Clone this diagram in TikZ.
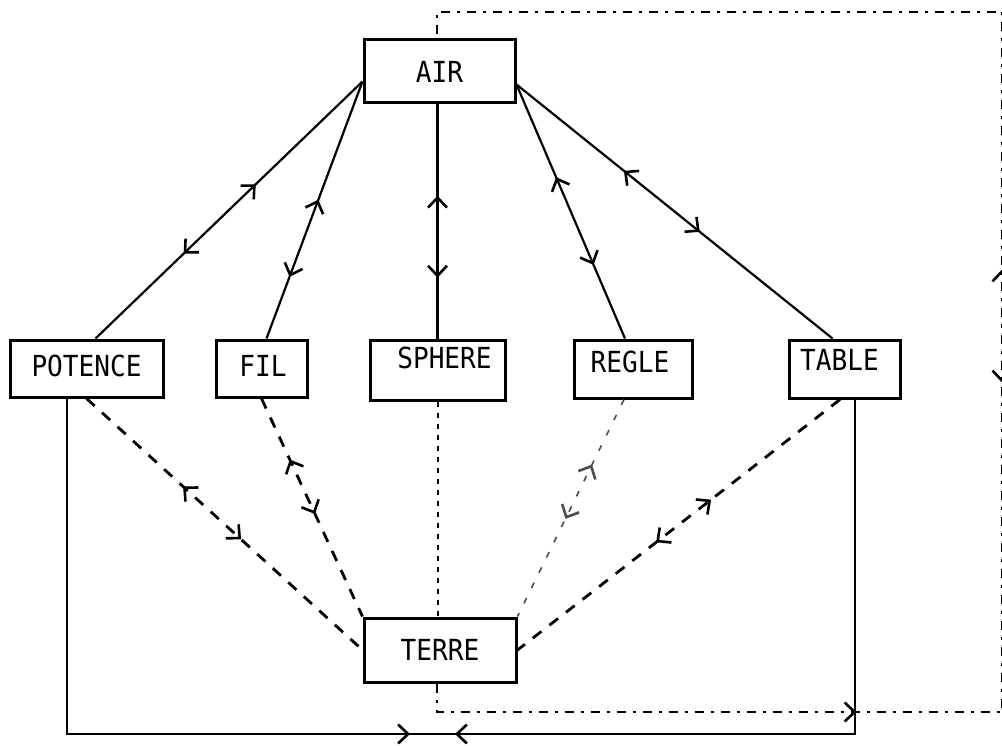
\documentclass[tikz,border=0pt]{standalone}
\usepackage{fontspec}
\newfontfamily\typewriter[FakeStretch=0.9]{DejaVu Sans Mono}
\usetikzlibrary{arrows.meta,decorations.markings}

\tikzset{
  barb/.tip={Straight Barb[length=10pt,width=19pt,line width=2.6pt]},
  lbl/.style={font=\typewriter\fontsize{29}{29}\selectfont, inner sep=0pt},
  box/.style n args={2}{draw, line width=3pt, inner sep=0pt,
    minimum width=#1, minimum height=#2},
  link/.style={line width=2.2pt},
  dlink/.style={line width=2.8pt, dash pattern=on 11pt off 10pt},
  dotlink/.style={line width=2pt, dash pattern=on 5pt off 6pt},
  faintlink/.style={line width=1.6pt, dash pattern=on 6pt off 11pt, black!70},
  dashdot/.style={line width=2.2pt, dash pattern=on 9pt off 7pt on 3pt off 7pt},
  two way/.style 2 args={postaction={decorate, decoration={markings,
    mark=at position #1 with {\arrowreversed{barb}},
    mark=at position #2 with {\arrow{barb}}}}},
  one way/.style={postaction={decorate, decoration={markings,
    mark=at position #1 with {\arrow{barb}}}}},
}

\begin{document}
\begin{tikzpicture}[x=1pt, y=-1pt]
  \useasboundingbox (0,0) rectangle (1002,746);
  \fill[white] (0,0) rectangle (1002,746);

  % boxes
  \node[box={151pt}{63pt}, label={[lbl, name=air-t]center:AIR}] (air) at (439.5,71.5) {};
  \node[box={153pt}{57pt}, label={[lbl, name=potence-t, yshift=2.5pt]center:POTENCE}] (potence) at (86.5,368.5) {};
  \node[box={91pt}{57pt}, label={[lbl, name=fil-t, xshift=1.5pt, yshift=3pt]center:FIL}] (fil) at (261.5,368.5) {};
  \node[box={135pt}{60pt}, label={[lbl, name=sphere-t, xshift=7pt, yshift=12pt]center:SPHERE}] (sphere) at (437.5,370) {};
  \node[box={118pt}{58pt}, label={[lbl, name=regle-t, xshift=-3pt, yshift=7pt]center:REGLE}] (regle) at (633,369) {};
  \node[box={111pt}{58pt}, label={[lbl, name=table-t, xshift=-5pt, yshift=9pt]center:TABLE}] (table) at (844.5,369) {};
  \node[box={152pt}{64pt}, label={[lbl, name=terre-t]center:TERRE}] (terre) at (440,650) {};

  % solid links from AIR
  \draw[link, two way={0.40}{0.67}] ([yshift=-10pt]air.west) -- ([xshift=9pt]potence.north);
  \draw[link, two way={0.46}{0.76}] ([yshift=-10pt]air.west) -- ([xshift=5pt]fil.north);
  \draw[link, two way={0.39}{0.74}] (air.south -| sphere.north) -- (sphere.north);
  \draw[link, two way={0.365}{0.71}] ([yshift=-13pt]air.east) -- ([xshift=-8pt]regle.north);
  \draw[link, two way={0.34}{0.58}] ([yshift=-13pt]air.east) -- ([xshift=-12pt]table.north);

  % dashed links to TERRE
  \draw[dlink, two way={0.35}{0.56}] (potence.south) -- (terre.west);
  \draw[dlink, two way={0.28}{0.53}] (fil.south) -- (terre.north west);
  \draw[dotlink] (sphere.south) -- (sphere.south |- terre.north);
  \draw[faintlink, two way={0.30}{0.55}] ([xshift=-9pt]regle.south) -- (terre.north east);
  \draw[dlink, two way={0.40}{0.57}] ([xshift=-4.5pt]table.south) -- (terre.east);

  % lower solid loop
  \coordinate (meet) at (432,734);
  \draw[link, one way=-22pt] ([xshift=-19.5pt]potence.south) |- (meet);
  \draw[link, one way=-23pt] ([xshift=10.5pt]table.south) |- (meet);

  % dash-dot loop round the right side
  \coordinate (lowR) at (1002,712);
  \coordinate (topR) at (1002,12);
  \draw[dashdot, postaction={decorate, decoration={markings,
      mark=at position 448pt with {\arrow{barb}},
      mark=at position 923pt with {\arrowreversed{barb}},
      mark=at position 1036pt with {\arrow{barb}}}}]
    ([xshift=-3pt]terre.south) |- (lowR) -- (topR) -| ([xshift=-2.5pt]air.north);
\end{tikzpicture}
\end{document}
